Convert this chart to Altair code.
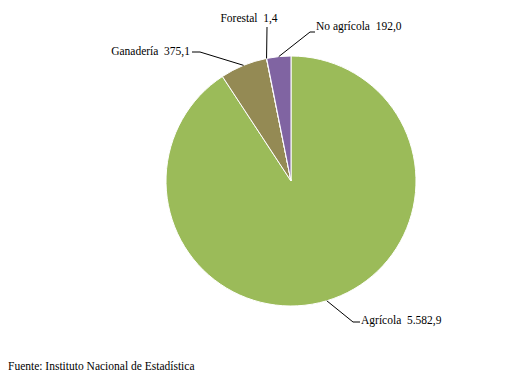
import math
import altair as alt
import pandas as pd

# Data
categories = ["Agrícola", "Ganadería", "Forestal", "No agrícola"]
values = [5582.9, 375.1, 1.4, 192.0]
labels = ["Agrícola\u00a0 5.582,9", "Ganadería\u00a0 375,1", "Forestal\u00a0 1,4", "No agrícola\u00a0 192,0"]
colors = ["#9BBB59", "#948A54", "#4BACC6", "#8064A2"]
source = "Fuente: Instituto Nacional de Estadística"

# Layout (chart pixel coordinates)
W, H = 505, 371
CX, CY, R = 283, 173, 125
label_x = [353, 182, 241, 308]
label_y = [313, 43.5, 11, 19]
label_align = ["left", "right", "center", "left"]
elbow_x = [345, 192, 259, 302]
elbow_y = [314, 44, 19, 24]
end_x = [352, 184, 259, 307]
end_y = [314, 44, 19, 24]

pie_df = pd.DataFrame({"cat": categories, "value": values, "idx": list(range(len(values)))})

total = sum(values)
cum = 0.0
lead_rows = []
lab_rows = []
for i, v in enumerate(values):
    mid = (cum + v / 2) / total * 2 * math.pi
    cum += v
    sx = CX + R * math.sin(mid)
    sy = CY - R * math.cos(mid)
    for j, (px, py) in enumerate([(sx, sy), (elbow_x[i], elbow_y[i]), (end_x[i], end_y[i])]):
        lead_rows.append({"cat": categories[i], "k": j, "x": px, "y": py})
    lab_rows.append({"cat": categories[i], "label": labels[i], "x": label_x[i], "y": label_y[i], "align": label_align[i]})
lead_df = pd.DataFrame(lead_rows)
lab_df = pd.DataFrame(lab_rows)

xs = alt.Scale(domain=[0, W], range=[0, W])
ys = alt.Scale(domain=[0, H], range=[0, H])
FONT = "Times New Roman, Times, serif"

pie = alt.Chart(pie_df).mark_arc(outerRadius=R, stroke="white", strokeWidth=1).encode(
    theta=alt.Theta("value:Q", stack=True),
    order=alt.Order("idx:Q"),
    color=alt.Color("cat:N", scale=alt.Scale(domain=categories, range=colors), legend=None),
    x=alt.value(CX),
    y=alt.value(CY),
)

leaders = alt.Chart(lead_df).mark_line(color="black", strokeWidth=1).encode(
    x=alt.X("x:Q", scale=xs, axis=None),
    y=alt.Y("y:Q", scale=ys, axis=None),
    detail="cat:N",
    order="k:Q",
)

text_layers = []
for al in ["left", "right", "center"]:
    text_layers.append(
        alt.Chart(lab_df).transform_filter(alt.datum.align == al).mark_text(
            align=al, baseline="middle", font=FONT, fontSize=11.5, color="black"
        ).encode(
            x=alt.X("x:Q", scale=xs, axis=None),
            y=alt.Y("y:Q", scale=ys, axis=None),
            text="label:N",
        )
    )

footer = alt.Chart(pd.DataFrame({"t": [source]})).mark_text(
    align="left", baseline="middle", font=FONT, fontSize=11.5, color="black"
).encode(x=alt.value(0), y=alt.value(359), text="t:N")

chart = alt.layer(pie, leaders, *text_layers, footer).properties(
    width=W, height=H, padding=0, autosize=alt.AutoSizeParams(type="none")
).configure_view(strokeWidth=0)

chart.save("out.html", embed_options={"renderer": "svg", "actions": False})
